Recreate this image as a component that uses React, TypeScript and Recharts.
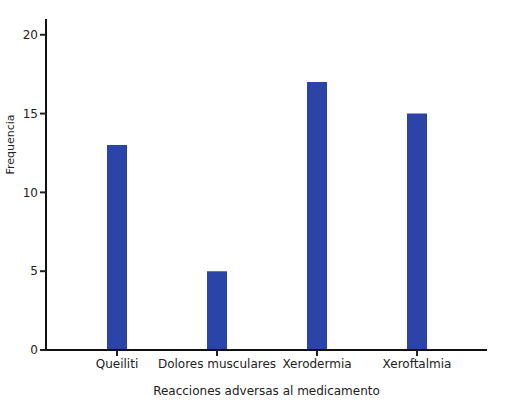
import { BarChart, Bar, XAxis, YAxis } from 'recharts';

const categories = ['Queiliti', 'Dolores musculares', 'Xerodermia', 'Xeroftalmia'];
const frequencies = [13, 5, 17, 15];
const yTicks = [0, 5, 10, 15, 20];

const data = categories.map((name, i) => ({ name, value: frequencies[i] }));

const font = { fontFamily: 'DejaVu Sans, Verdana, sans-serif', fontSize: 12, fill: '#222' };

export default function App() {
    return (
        <div style={{ position: 'absolute', left: 0, top: 0, width: 519, height: 406, background: '#fff' }}>
            <BarChart
                width={519}
                height={406}
                data={data}
                margin={{ top: 19, right: 32, bottom: 6, left: 0 }}
                barSize={20}
            >
                <XAxis
                    dataKey="name"
                    height={50}
                    padding={{ left: 21, right: 20 }}
                    stroke="#111"
                    strokeWidth={2}
                    tickSize={6}
                    tickLine={{ stroke: '#222', strokeWidth: 2 }}
                    tick={font}
                    tickMargin={3}
                    label={{ value: 'Reacciones adversas al medicamento', position: 'insideBottom', offset: 5, style: font }}
                />
                <YAxis
                    width={46}
                    domain={[0, 21]}
                    ticks={yTicks}
                    stroke="#111"
                    strokeWidth={2}
                    tickSize={6}
                    tickLine={{ stroke: '#222', strokeWidth: 2 }}
                    tick={font}
                    tickMargin={2}
                    label={{ value: 'Frequencia', angle: -90, position: 'insideLeft', offset: 10, dy: -40, style: { ...font, fontSize: 11, textAnchor: 'middle' } }}
                />
                <Bar dataKey="value" fill="#2a44a8" isAnimationActive={false} />
            </BarChart>
        </div>
    );
}
